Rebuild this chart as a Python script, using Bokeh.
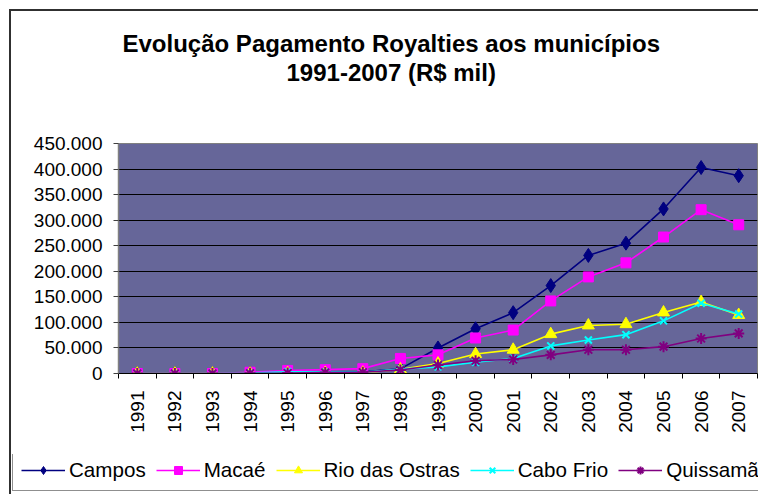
from math import pi
from bokeh.plotting import figure
from bokeh.layouts import column
from bokeh.models import (Range1d, LinearAxis, FixedTicker, Legend, LegendItem,
                          Title, Grid)
from bokeh.embed import file_html
from bokeh.resources import INLINE

# ---- data (R$ mil) ----
years = [1991, 1992, 1993, 1994, 1995, 1996, 1997, 1998, 1999, 2000,
         2001, 2002, 2003, 2004, 2005, 2006, 2007]
campos = [0, 0, 0, 1000, 1500, 2500, 3500, 9000, 50000, 87500,
          119000, 172000, 231000, 255000, 322000, 403000, 387000]
macae = [0, 0, 0, 2500, 6000, 7500, 9500, 29500, 36500, 69500,
         85000, 142000, 189000, 216500, 267000, 320500, 291000]
rio_das_ostras = [0, 0, 0, 0, 500, 1000, 1500, 8000, 19500, 38000,
                  46500, 77000, 94000, 96500, 119500, 140000, 114500]
cabo_frio = [0, 0, 0, 1000, 3500, 3000, 2500, 8500, 13000, 22000,
             29500, 54000, 65500, 76000, 103000, 137500, 116500]
quissama = [0, 0, 0, 500, 1000, 2000, 2500, 7000, 16500, 25000,
            27500, 36500, 46500, 46500, 52500, 68500, 78500]

series_names = ["Campos", "Macaé", "Rio das Ostras", "Cabo Frio", "Quissamã"]
y_ticks = [0, 50000, 100000, 150000, 200000, 250000, 300000, 350000, 400000, 450000]
y_tick_labels = ["0", "50.000", "100.000", "150.000", "200.000", "250.000",
                 "300.000", "350.000", "400.000", "450.000"]
title_lines = ["Evolução Pagamento Royalties aos municípios", "1991-2007 (R$ mil)"]

FONT = "Liberation Sans"
FRAME_LINE = "#303030"

n = len(years)
xs = [i + 0.5 for i in range(n)]

# ---------------- main chart ----------------
p = figure(width=758, height=454, output_backend="svg", toolbar_location=None,
           x_range=Range1d(0, n), y_range=Range1d(0, 450000),
           x_axis_type=None, y_axis_type=None,
           min_border_left=118, min_border_right=1, min_border_top=143,
           min_border_bottom=81)
p.frame_align = False
p.background_fill_color = "#666699"
p.border_fill_alpha = 0
p.outline_line_color = "#808080"
p.outline_line_width = 1
# outer chart frame (left and top edges; the rest runs off the picture)
p.styles = {
    "background": f"linear-gradient({FRAME_LINE},{FRAME_LINE}) 9px 9px / 2px 100% no-repeat, "
                  f"linear-gradient({FRAME_LINE},{FRAME_LINE}) 9px 9px / 100% 2px no-repeat, white"
}

# y axis
yaxis = LinearAxis(ticker=FixedTicker(ticks=y_ticks, minor_ticks=[]))
yaxis.major_label_overrides = {t: l for t, l in zip(y_ticks, y_tick_labels)}
yaxis.axis_line_color = "#808080"
yaxis.axis_line_width = 1.5
yaxis.major_tick_line_color = "#404040"
yaxis.major_tick_out = 5
yaxis.major_tick_in = 0
yaxis.major_label_standoff = 11
yaxis.major_label_text_font = FONT
yaxis.major_label_text_font_size = "19px"
yaxis.major_label_text_color = "black"
p.add_layout(yaxis, "left")
p.add_layout(Grid(dimension=1, ticker=yaxis.ticker, grid_line_color="black",
                  grid_line_width=1))

# x axis: labels at category centres, tick marks at category boundaries
xaxis = LinearAxis(ticker=FixedTicker(ticks=xs, minor_ticks=list(range(n + 1))))
xaxis.major_label_overrides = {x: str(y) for x, y in zip(xs, years)}
xaxis.major_label_orientation = pi / 2
xaxis.axis_line_color = "black"
xaxis.major_tick_line_color = None
xaxis.major_tick_out = 5
xaxis.minor_tick_line_color = "black"
xaxis.minor_tick_out = 5
xaxis.minor_tick_in = 0
xaxis.major_label_standoff = 12
xaxis.major_label_text_font = FONT
xaxis.major_label_text_font_size = "19px"
xaxis.major_label_text_color = "black"
p.add_layout(xaxis, "below")

styles = [
    ("#000080", "diamond", 14),
    ("#FF00FF", "square", 10),
    ("#FFFF00", "triangle", 12),
    ("#00FFFF", "x", 10),
    ("#800080", "asterisk", 11),
]
data = [campos, macae, rio_das_ostras, cabo_frio, quissama]


def draw_series(fig):
    out = []
    for name, vals, (col, mk, sz) in zip(series_names, data, styles):
        lr = fig.line(xs, vals, line_color=col, line_width=1.6)
        sr = fig.scatter(xs, vals, marker=mk, size=sz, fill_color=col,
                         line_color=col,
                         line_width=2 if mk in ("x", "asterisk") else 1)
        out.append((name, lr, sr))
    return out


draw_series(p)

# title: spacer nearest the plot, then line 2, then line 1
p.add_layout(Title(text=" ", text_font=FONT, text_font_size="24px",
                   standoff=29), "above")
p.add_layout(Title(text=title_lines[1], align="left", offset=168,
                   text_font=FONT, text_font_size="24px", text_font_style="bold",
                   text_color="black", standoff=0), "above")
p.add_layout(Title(text=title_lines[0], align="left", offset=4,
                   text_font=FONT, text_font_size="24px", text_font_style="bold",
                   text_color="black", standoff=0), "above")

# ---------------- legend strip ----------------
leg = figure(width=758, height=40, output_backend="svg", toolbar_location=None,
             x_range=Range1d(-100, -90), y_range=Range1d(-100, -90),
             x_axis_type=None, y_axis_type=None,
             min_border_left=0, min_border_right=0, min_border_top=0,
             min_border_bottom=0)
leg.frame_align = False
leg.background_fill_alpha = 0
leg.border_fill_alpha = 0
leg.outline_line_color = None
leg.xgrid.visible = False
leg.ygrid.visible = False
leg.styles = {
    "background": f"linear-gradient({FRAME_LINE},{FRAME_LINE}) 9px 0px / 2px 100% no-repeat, white"
}
items = [LegendItem(label=name, renderers=[lr, sr]) for name, lr, sr in draw_series(leg)]

legend = Legend(items=items, orientation="horizontal", location=(12, 3))
legend.glyph_width = 44
legend.glyph_height = 20
legend.label_standoff = 4
legend.spacing = 10
legend.padding = 8
legend.margin = 0
legend.label_text_font = FONT
legend.label_text_font_size = "20.6px"
legend.label_text_color = "black"
legend.border_line_color = "#202020"
legend.border_line_width = 1.5
legend.background_fill_color = "white"
legend.background_fill_alpha = 1
leg.add_layout(legend)

layout = column(p, leg, spacing=0)
open("out.html", "w").write(file_html(layout, INLINE))
